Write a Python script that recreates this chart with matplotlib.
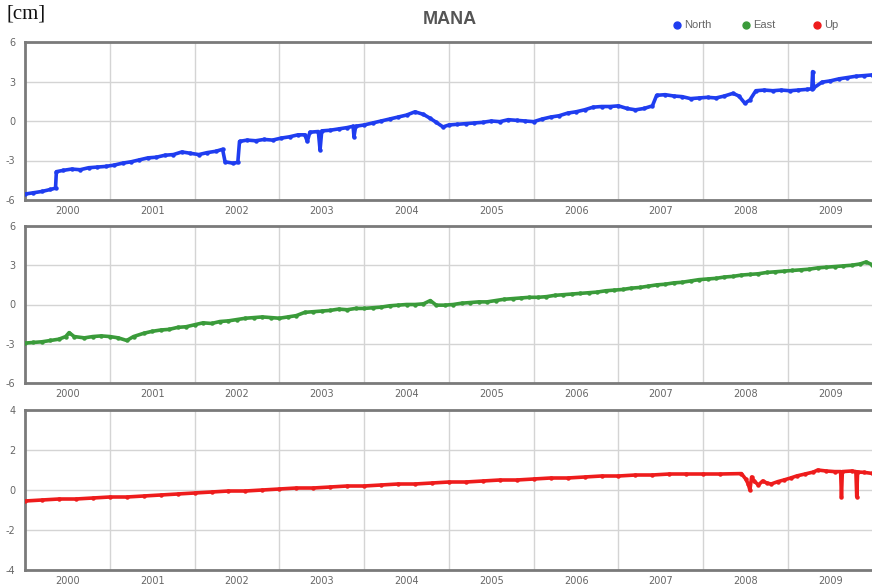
import numpy as np
import matplotlib
matplotlib.use("Agg")
import matplotlib.pyplot as plt
from matplotlib.lines import Line2D

# daily GPS position, station MANA (cm), sampled by hand
north_t = [2000.00, 2000.10, 2000.20, 2000.30, 2000.36, 2000.37, 2000.45, 2000.55, 2000.65, 2000.75,
           2000.85, 2000.95, 2001.05, 2001.15, 2001.25, 2001.35, 2001.45, 2001.55, 2001.65, 2001.75,
           2001.85, 2001.95, 2002.05, 2002.15, 2002.25, 2002.33, 2002.36, 2002.45, 2002.51, 2002.53,
           2002.62, 2002.72, 2002.82, 2002.92, 2003.02, 2003.12, 2003.22, 2003.30, 2003.33, 2003.36,
           2003.46, 2003.48, 2003.50, 2003.60, 2003.70, 2003.80, 2003.87, 2003.88, 2003.90, 2004.00,
           2004.10, 2004.20, 2004.30, 2004.40, 2004.50, 2004.60, 2004.70, 2004.78, 2004.85, 2004.93,
           2005.00, 2005.10, 2005.20, 2005.30, 2005.40, 2005.50, 2005.60, 2005.70, 2005.80, 2005.90,
           2006.00, 2006.10, 2006.20, 2006.30, 2006.40, 2006.50, 2006.60, 2006.70, 2006.80, 2006.90,
           2007.00, 2007.10, 2007.20, 2007.30, 2007.40, 2007.45, 2007.55, 2007.65, 2007.75, 2007.85,
           2007.95, 2008.05, 2008.15, 2008.25, 2008.35, 2008.42, 2008.49, 2008.55, 2008.62, 2008.72,
           2008.82, 2008.92, 2009.02, 2009.12, 2009.22, 2009.28, 2009.29, 2009.30, 2009.40, 2009.50,
           2009.60, 2009.70, 2009.80, 2009.90, 2009.99]
north_v = [-5.55, -5.45, -5.35, -5.20, -5.10, -3.85, -3.75, -3.65, -3.70, -3.55,
           -3.50, -3.45, -3.35, -3.20, -3.10, -2.95, -2.80, -2.75, -2.60, -2.55,
           -2.35, -2.45, -2.55, -2.40, -2.30, -2.15, -3.10, -3.20, -3.15, -1.55,
           -1.45, -1.50, -1.40, -1.45, -1.30, -1.20, -1.05, -1.05, -1.55, -0.85,
           -0.80, -2.20, -0.75, -0.70, -0.60, -0.50, -0.40, -1.20, -0.40, -0.30,
           -0.15, 0.00, 0.15, 0.30, 0.45, 0.70, 0.50, 0.20, -0.10, -0.45,
           -0.30, -0.25, -0.20, -0.15, -0.10, 0.00, -0.05, 0.10, 0.05, 0.00,
           -0.05, 0.15, 0.30, 0.40, 0.60, 0.70, 0.85, 1.05, 1.10, 1.10,
           1.15, 0.95, 0.85, 0.95, 1.15, 1.95, 2.00, 1.90, 1.85, 1.70,
           1.75, 1.80, 1.75, 1.90, 2.10, 1.90, 1.35, 1.60, 2.30, 2.35,
           2.30, 2.35, 2.30, 2.35, 2.40, 2.45, 3.75, 2.50, 2.95, 3.05,
           3.20, 3.30, 3.40, 3.45, 3.50]

east_t = [2000.00, 2000.10, 2000.20, 2000.30, 2000.40, 2000.48, 2000.52, 2000.58, 2000.70, 2000.80,
          2000.90, 2001.00, 2001.10, 2001.20, 2001.28, 2001.40, 2001.50, 2001.60, 2001.70, 2001.80,
          2001.90, 2002.00, 2002.10, 2002.20, 2002.30, 2002.40, 2002.50, 2002.60, 2002.70, 2002.80,
          2002.90, 2003.00, 2003.10, 2003.20, 2003.30, 2003.40, 2003.50, 2003.60, 2003.70, 2003.80,
          2003.90, 2004.00, 2004.10, 2004.20, 2004.30, 2004.40, 2004.50, 2004.60, 2004.70, 2004.78,
          2004.85, 2004.95, 2005.05, 2005.15, 2005.25, 2005.35, 2005.45, 2005.55, 2005.65, 2005.75,
          2005.85, 2005.95, 2006.05, 2006.15, 2006.25, 2006.35, 2006.45, 2006.55, 2006.65, 2006.75,
          2006.85, 2006.95, 2007.05, 2007.15, 2007.25, 2007.35, 2007.45, 2007.55, 2007.65, 2007.75,
          2007.85, 2007.95, 2008.05, 2008.15, 2008.25, 2008.35, 2008.45, 2008.55, 2008.65, 2008.75,
          2008.85, 2008.95, 2009.05, 2009.15, 2009.25, 2009.35, 2009.45, 2009.55, 2009.65, 2009.75,
          2009.85, 2009.92, 2009.99]
east_v = [-2.95, -2.90, -2.85, -2.75, -2.65, -2.45, -2.15, -2.45, -2.55, -2.45,
          -2.40, -2.45, -2.55, -2.75, -2.45, -2.20, -2.05, -1.95, -1.90, -1.75,
          -1.70, -1.55, -1.40, -1.45, -1.30, -1.25, -1.15, -1.05, -1.00, -0.95,
          -1.00, -1.05, -0.95, -0.85, -0.60, -0.55, -0.50, -0.45, -0.35, -0.40,
          -0.30, -0.30, -0.25, -0.20, -0.10, -0.05, 0.00, 0.00, 0.05, 0.30,
          -0.05, -0.05, 0.00, 0.10, 0.15, 0.20, 0.20, 0.30, 0.40, 0.45,
          0.50, 0.55, 0.55, 0.60, 0.70, 0.75, 0.80, 0.85, 0.90, 0.95,
          1.05, 1.10, 1.15, 1.25, 1.30, 1.40, 1.50, 1.55, 1.65, 1.70,
          1.80, 1.90, 1.95, 2.00, 2.10, 2.15, 2.25, 2.30, 2.35, 2.45,
          2.50, 2.55, 2.60, 2.65, 2.70, 2.80, 2.85, 2.90, 2.95, 3.00,
          3.10, 3.25, 3.05]

up_t = [2000.00, 2000.20, 2000.40, 2000.60, 2000.80, 2001.00, 2001.20, 2001.40, 2001.60, 2001.80,
        2002.00, 2002.20, 2002.40, 2002.60, 2002.80, 2003.00, 2003.20, 2003.40, 2003.60, 2003.80,
        2004.00, 2004.20, 2004.40, 2004.60, 2004.80, 2005.00, 2005.20, 2005.40, 2005.60, 2005.80,
        2006.00, 2006.20, 2006.40, 2006.60, 2006.80, 2007.00, 2007.20, 2007.40, 2007.60, 2007.80,
        2008.00, 2008.20, 2008.45, 2008.50, 2008.53, 2008.55, 2008.57, 2008.60, 2008.65, 2008.70,
        2008.75, 2008.80, 2008.88, 2008.95, 2009.03, 2009.10, 2009.20, 2009.30, 2009.35, 2009.45,
        2009.55, 2009.62, 2009.63, 2009.64, 2009.75, 2009.80, 2009.81, 2009.82, 2009.90, 2009.99]
up_v = [-0.55, -0.50, -0.45, -0.45, -0.40, -0.35, -0.35, -0.30, -0.25, -0.20,
        -0.15, -0.10, -0.05, -0.05, 0.00, 0.05, 0.10, 0.10, 0.15, 0.20,
        0.20, 0.25, 0.30, 0.30, 0.35, 0.40, 0.40, 0.45, 0.50, 0.50,
        0.55, 0.60, 0.60, 0.65, 0.70, 0.70, 0.75, 0.75, 0.80, 0.80,
        0.80, 0.80, 0.82, 0.55, 0.30, 0.00, 0.65, 0.45, 0.25, 0.45,
        0.35, 0.30, 0.42, 0.50, 0.60, 0.70, 0.80, 0.90, 1.00, 0.95,
        0.92, 0.92, -0.33, 0.92, 0.95, 0.92, -0.33, 0.90, 0.88, 0.83]

years = list(range(2000, 2010))

series = [
    (north_t, north_v, "#1f3df0", 6, [6, 3, 0, -3, -6]),
    (east_t, east_v, "#3a9b3a", 6, [6, 3, 0, -3, -6]),
    (up_t, up_v, "#ee1c1c", 4, [4, 2, 0, -2, -4]),
]

fig = plt.figure(figsize=(8.72, 5.88), dpi=100)
fig.patch.set_facecolor("white")

W, H = 872.0, 588.0
left = 25 / W
panels = [(42, 200), (226, 383), (410, 570)]

for (top, bot), (t, v, col, lim, yt) in zip(panels, series):
    ax = fig.add_axes([left, 1 - bot / H, 1.0 - left, (bot - top) / H])
    ax.plot(t, v, color=col, lw=2.6, marker="o", ms=2.2, mec=col, mfc=col,
            solid_joinstyle="round", zorder=3)
    ax.set_xlim(2000, 2009.99)
    ax.set_ylim(-lim, lim)

    # year boundaries carry the grid, mid-year ticks carry the labels
    ax.set_xticks([y for y in years[1:]])
    ax.set_xticklabels([])
    ax.set_xticks([y + 0.5 for y in years], minor=True)
    ax.set_xticklabels([str(y) for y in years], minor=True)
    ax.set_yticks(yt)
    ax.set_yticklabels([str(y) for y in yt])

    ax.tick_params(which="both", length=0, labelsize=7, colors="#666666")
    ax.tick_params(axis="x", which="minor", pad=4)
    ax.tick_params(axis="y", pad=7)
    ax.grid(True, which="major", color="#d4d4d4", lw=1.0)
    ax.set_axisbelow(True)

    for s in ["top", "left", "bottom"]:
        ax.spines[s].set_color("#7a7a7a")
        ax.spines[s].set_linewidth(2.0)
    ax.spines["right"].set_visible(False)

fig.text(7 / W, 1 - 14 / H, "[cm]", family="Liberation Serif", fontsize=15,
         color="#111111", va="center", ha="left")
fig.text(450 / W, 1 - 20 / H, "MANA", family="Liberation Sans", fontsize=13,
         fontweight="bold", color="#555555", ha="center", va="center")

legend_items = [("North", "#1f3df0", 677), ("East", "#3a9b3a", 746), ("Up", "#ee1c1c", 817)]
for name, col, xp in legend_items:
    fig.add_artist(Line2D([xp / W], [1 - 25 / H], transform=fig.transFigure,
                          marker="o", ms=5, color=col, lw=0))
    fig.text((xp + 7) / W, 1 - 25 / H, name, family="Liberation Sans", fontsize=8,
             color="#666666", ha="left", va="center")

fig.savefig("out.png", dpi=100)
